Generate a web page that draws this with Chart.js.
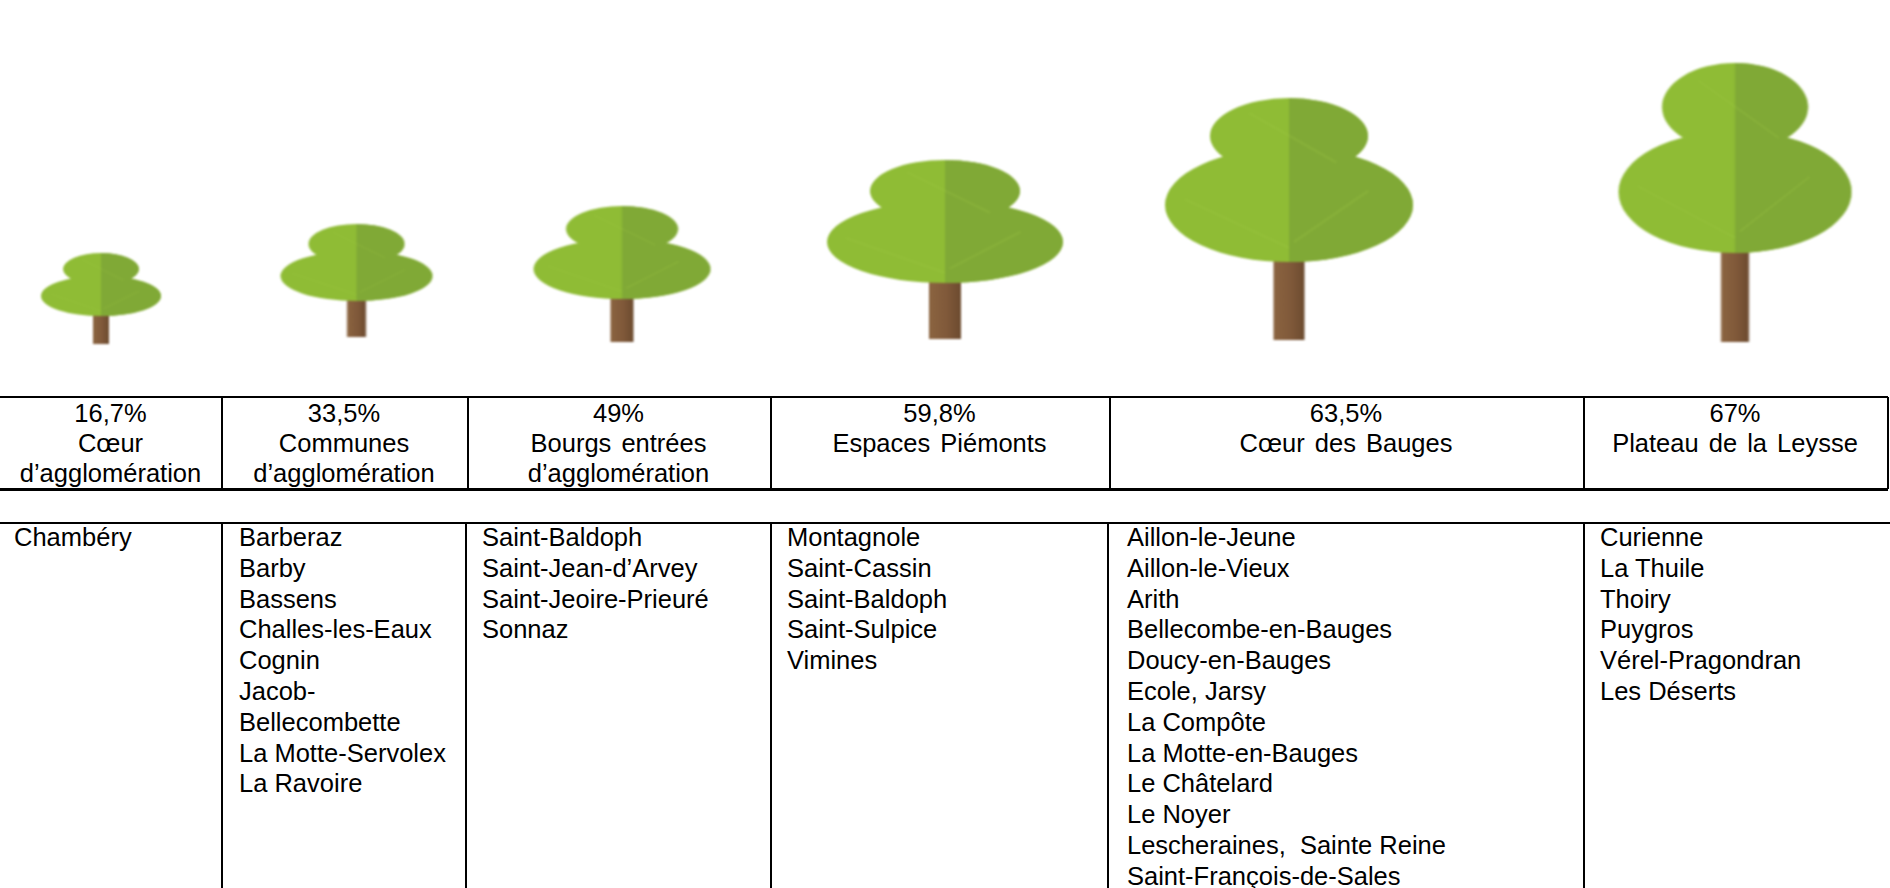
<!DOCTYPE html>
<html lang="fr">
<head>
<meta charset="utf-8">
<title>Arbres</title>
<script src="https://cdn.jsdelivr.net/npm/chart.js@4"></script>
<style>
    html, body { margin: 0; padding: 0; width: 1890px; height: 888px; overflow: hidden; background: #fff; }
    body { position: relative; font-family: "Liberation Sans", Arial, sans-serif; color: #000; }
    #treeChart { position: absolute; left: 0; top: 0; }
    .rule { position: absolute; background: #000; }
    .head, .list { position: absolute; white-space: nowrap; }
    .head { top: 398px; text-align: center; font-size: 25.5px; line-height: 30px; word-spacing: 3px; }
    .list { top: 522px; font-size: 25.5px; line-height: 30.8px; }
</style>
</head>
<body>
<canvas id="treeChart" width="1890" height="395"></canvas>
<script>
// Chart data
const categories = [
    ['Cœur', 'd’agglomération'],
    ['Communes', 'd’agglomération'],
    ['Bourgs entrées', 'd’agglomération'],
    ['Espaces Piémonts'],
    ['Cœur des Bauges'],
    ['Plateau de la Leysse']
];
const percentLabels = ['16,7%', '33,5%', '49%', '59,8%', '63,5%', '67%'];
const treeHeights = [91, 113, 136, 179, 242, 279];
const treeWidths = [120, 152, 177, 236, 248, 233];

const communesChambery = ['Chambéry'];
const communesAgglo = ['Barberaz', 'Barby', 'Bassens', 'Challes-les-Eaux', 'Cognin', 'Jacob-', 'Bellecombette', 'La Motte-Servolex', 'La Ravoire'];
const communesBourgs = ['Saint-Baldoph', 'Saint-Jean-d’Arvey', 'Saint-Jeoire-Prieuré', 'Sonnaz'];
const communesPiemonts = ['Montagnole', 'Saint-Cassin', 'Saint-Baldoph', 'Saint-Sulpice', 'Vimines'];
const communesBauges = ['Aillon-le-Jeune', 'Aillon-le-Vieux', 'Arith', 'Bellecombe-en-Bauges', 'Doucy-en-Bauges', 'Ecole, Jarsy', 'La Compôte', 'La Motte-en-Bauges', 'Le Châtelard', 'Le Noyer', 'Lescheraines,&nbsp; Sainte Reine', 'Saint-François-de-Sales'];
const communesLeysse = ['Curienne', 'La Thuile', 'Thoiry', 'Puygros', 'Vérel-Pragondran', 'Les Déserts'];

// ============================================
// Layout (page units, separate from the data)
// ============================================

const columnEdges = [0, 221, 467, 770, 1109, 1583, 1887];
const lowerEdges = [221, 465, 770, 1107, 1583];
const listLefts = [14, 239, 482, 787, 1127, 1600];
const treeCentres = [101, 356.5, 622, 945, 1289, 1735];
const treeBases = [51, 58, 53, 56, 55, 53];

// upper crown rx/ry, lower crown ry and centre, trunk width and top
const treeShapes = [
    { upRx: 38, upRy: 16, lowRy: 20, lowCy: 43, trunkW: 16, trunkTop: 60 },
    { upRx: 48, upRy: 20, lowRy: 25, lowCy: 52, trunkW: 19, trunkTop: 76 },
    { upRx: 56, upRy: 23, lowRy: 30, lowCy: 63, trunkW: 23, trunkTop: 91 },
    { upRx: 75, upRy: 31, lowRy: 41, lowCy: 82, trunkW: 32, trunkTop: 121 },
    { upRx: 79, upRy: 38, lowRy: 57, lowCy: 107, trunkW: 31, trunkTop: 162 },
    { upRx: 73, upRy: 44, lowRy: 61, lowCy: 129, trunkW: 28, trunkTop: 188 }
];

// ============================================
// Tree marks, used as the points' pointStyle
// ============================================

function crownPath(ctx, mid, width, shape) {
    ctx.beginPath();
    ctx.ellipse(mid, shape.upRy, shape.upRx, shape.upRy, 0, 0, Math.PI * 2);
    ctx.closePath();
    ctx.ellipse(mid, shape.lowCy, width / 2, shape.lowRy, 0, 0, Math.PI * 2);
    ctx.closePath();
}

function drawTree(ctx, width, height, shape) {
    const mid = width / 2;

    // trunk
    const trunkLeft = mid - shape.trunkW / 2;
    const bark = ctx.createLinearGradient(trunkLeft, 0, trunkLeft + shape.trunkW, 0);
    bark.addColorStop(0, '#8b6440');
    bark.addColorStop(0.55, '#80593a');
    bark.addColorStop(1, '#6c4b2f');
    ctx.fillStyle = bark;
    ctx.fillRect(trunkLeft, shape.trunkTop, shape.trunkW, height - shape.trunkTop);

    // crown, lighter on the left half
    ctx.save();
    crownPath(ctx, mid, width, shape);
    ctx.clip();
    ctx.fillStyle = '#8fbc35';
    ctx.fillRect(0, 0, width, height);
    ctx.fillStyle = '#80a936';
    ctx.fillRect(mid, 0, mid, height);

    // leaf veins
    const crownBottom = shape.lowCy + shape.lowRy;
    ctx.strokeStyle = 'rgba(165, 205, 75, 0.22)';
    ctx.lineWidth = Math.max(1, width / 110);
    ctx.beginPath();
    ctx.moveTo(mid, crownBottom - shape.lowRy * 0.25);
    ctx.lineTo(mid - width * 0.42, shape.lowCy - shape.lowRy * 0.1);
    ctx.moveTo(mid + shape.upRx * 0.6, shape.upRy * 1.7);
    ctx.lineTo(mid - shape.upRx * 0.5, shape.upRy * 0.4);
    ctx.moveTo(mid + width * 0.02, crownBottom - shape.lowRy * 0.35);
    ctx.lineTo(mid + width * 0.32, shape.lowCy - shape.lowRy * 0.25);
    ctx.stroke();
    ctx.restore();
}

function buildTreeImage(width, height, shape) {
    const pad = 4;
    const sharp = document.createElement('canvas');
    sharp.width = width + pad * 2;
    sharp.height = height + pad * 2;
    const sharpCtx = sharp.getContext('2d');
    sharpCtx.translate(pad, pad);
    drawTree(sharpCtx, width, height, shape);

    // soften it all at once, the original is a blurry picture
    const canvas = document.createElement('canvas');
    canvas.width = sharp.width;
    canvas.height = sharp.height;
    const ctx = canvas.getContext('2d');
    ctx.filter = 'blur(0.8px)';
    ctx.drawImage(sharp, 0, 0);
    return canvas;
}

function initializeTreeChart() {
    const treeImages = treeHeights.map((h, i) => buildTreeImage(treeWidths[i], h, treeShapes[i]));
    const points = percentLabels.map((label, i) => ({
        x: treeCentres[i],
        y: treeBases[i] + treeHeights[i] / 2
    }));

    new Chart(document.getElementById('treeChart'), {
        type: 'scatter',
        data: {
            datasets: [{
                label: 'Part par secteur',
                data: points,
                pointStyle: treeImages,
                pointRadius: 5
            }]
        },
        options: {
            responsive: false,
            animation: false,
            layout: { padding: 0, autoPadding: false },
            plugins: {
                legend: { display: false },
                tooltip: { enabled: false }
            },
            scales: {
                x: { type: 'linear', min: 0, max: 1890, display: false },
                y: { type: 'linear', min: 0, max: 395, display: false }
            }
        }
    });
}

// ============================================
// Table under the trees
// ============================================

function addRule(left, top, width, height) {
    const rule = document.createElement('div');
    rule.className = 'rule';
    rule.style.cssText = `left:${left}px;top:${top}px;width:${width}px;height:${height}px`;
    document.body.appendChild(rule);
}

function addLines(className, lines, style) {
    const block = document.createElement('div');
    block.className = className;
    block.style.cssText = style;
    block.innerHTML = lines.join('<br>');
    document.body.appendChild(block);
}

function buildTable() {
    const communes = [communesChambery, communesAgglo, communesBourgs, communesPiemonts, communesBauges, communesLeysse];

    addRule(0, 396, 1888, 2);
    addRule(0, 488, 1888, 3);
    addRule(0, 522, 1890, 2);

    columnEdges.slice(1).forEach(edge => addRule(edge, 397, 2, 92));
    lowerEdges.forEach(edge => addRule(edge, 522, 2, 366));

    categories.forEach((lines, i) => {
        const left = columnEdges[i];
        const width = columnEdges[i + 1] - left;
        addLines('head', [percentLabels[i]].concat(lines), `left:${left}px;width:${width}px`);
        addLines('list', communes[i], `left:${listLefts[i]}px`);
    });
}

document.addEventListener('DOMContentLoaded', function() {
    initializeTreeChart();
    buildTable();
});
</script>
</body>
</html>
